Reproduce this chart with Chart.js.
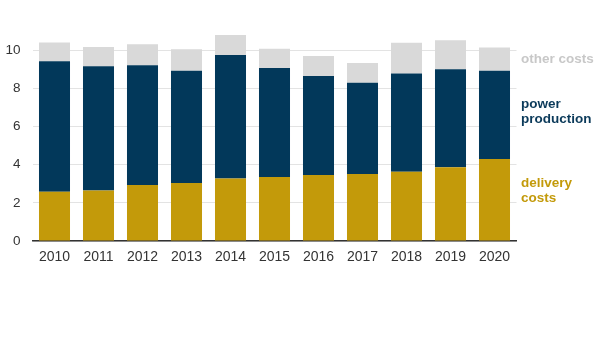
<!DOCTYPE html>
<html>
<head>
<meta charset="utf-8">
<script src="https://cdn.jsdelivr.net/npm/chart.js@4"></script>
<style>
  html, body { margin: 0; padding: 0; background: #fff; }
  #wrap { width: 600px; height: 338px; position: relative; }
</style>
</head>
<body>
<div id="wrap"><canvas id="chart"></canvas></div>
<script>
// anni
const years = ['2010', '2011', '2012', '2013', '2014', '2015', '2016', '2017', '2018', '2019', '2020'];

// stacked components, cents per kWh
const deliveryCosts = [2.58, 2.65, 2.93, 3.04, 3.28, 3.35, 3.46, 3.51, 3.63, 3.86, 4.29];
const powerProduction = [6.84, 6.50, 6.27, 5.88, 6.46, 5.71, 5.18, 4.78, 5.15, 5.13, 4.63];
const otherCosts = [0.98, 1.01, 1.10, 1.13, 1.05, 1.01, 1.05, 1.03, 1.60, 1.53, 1.22];

const yTicks = [0, 2, 4, 6, 8, 10];

// colori
const colGold = '#c39a0a';
const colNavy = '#02385a';
const colGrey = '#d9d9d9';

// labels on the right side, anchored to a y value
const sideLabels = [
    { lines: ['other costs'], at: 9.5, color: '#c8c8c8' },
    { lines: ['power', 'production'], at: 6.75, color: '#0b3a5a' },
    { lines: ['delivery', 'costs'], at: 2.65, color: '#c39a0a' }
];

const sideLabelPlugin = {
    id: 'sideLabels',
    afterDatasetsDraw(chart) {
        const ctx = chart.ctx;
        const y = chart.scales.y;
        const x0 = chart.chartArea.right + 4.5;
        const lh = 15;
        ctx.save();
        ctx.font = 'bold 13.5px "Liberation Sans", Arial, sans-serif';
        ctx.textAlign = 'left';
        ctx.textBaseline = 'middle';
        sideLabels.forEach(l => {
            const cy = y.getPixelForValue(l.at);
            const start = cy - (l.lines.length - 1) * lh / 2;
            ctx.fillStyle = l.color;
            l.lines.forEach((t, i) => ctx.fillText(t, x0, start + i * lh));
        });
        ctx.restore();
    }
};

const ctx = document.getElementById('chart').getContext('2d');
const chart = new Chart(ctx, {
    type: 'bar',
    data: {
        labels: years,
        datasets: [
            { label: 'delivery costs', data: deliveryCosts, backgroundColor: colGold },
            { label: 'power production', data: powerProduction, backgroundColor: colNavy },
            { label: 'other costs', data: otherCosts, backgroundColor: colGrey }
        ]
    },
    options: {
        responsive: true,
        maintainAspectRatio: false,
        animation: false,
        datasets: {
            bar: { categoryPercentage: 1.0, barPercentage: 0.705, borderWidth: 0 }
        },
        layout: { padding: { top: 31, right: 83.5, left: 0, bottom: 0 } },
        plugins: {
            legend: { display: false },
            tooltip: { enabled: false }
        },
        scales: {
            x: {
                stacked: true,
                grid: { display: false, drawTicks: false },
                border: { color: '#333', width: 1.5 },
                ticks: {
                    color: '#333',
                    padding: 8,
                    maxRotation: 0,
                    font: { family: '"Liberation Sans", Arial, sans-serif', size: 14 }
                },
                afterFit(scale) { scale.height = 97; }
            },
            y: {
                stacked: true,
                min: 0,
                max: 11,
                afterBuildTicks(scale) {
                    scale.ticks = yTicks.map(v => ({ value: v }));
                },
                grid: { color: '#e3e3e3', lineWidth: 1, drawTicks: false },
                border: { display: false },
                ticks: {
                    color: '#333',
                    padding: 12,
                    font: { family: '"Liberation Sans", Arial, sans-serif', size: 13.5 }
                },
                afterFit(scale) { scale.width = 32.5; }
            }
        }
    },
    plugins: [sideLabelPlugin]
});
</script>
</body>
</html>
